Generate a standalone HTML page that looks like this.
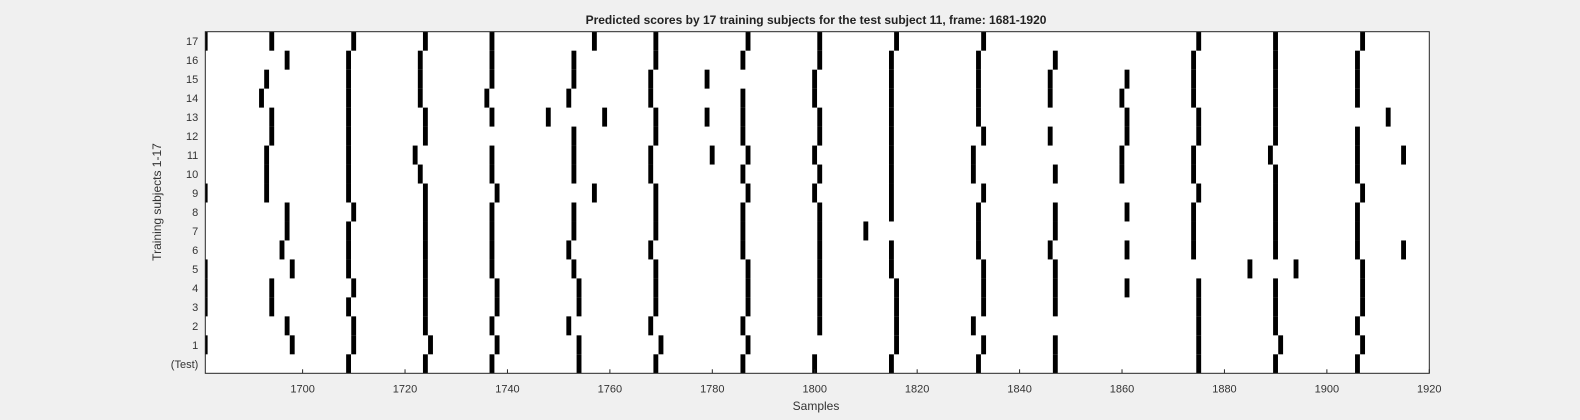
<!DOCTYPE html>
<html><head><meta charset="utf-8"><style>
body{margin:0;background:#f0f0f0;}
svg{display:block;font-family:"Liberation Sans",sans-serif;}
</style></head><body>
<svg id="chart" width="1580" height="420">
<defs><clipPath id="plotclip"><rect x="205.3" y="31.7" width="1224" height="341.6"/></clipPath></defs>
<rect x="0" y="0" width="1580" height="420" fill="#f0f0f0"/>
<rect x="205.3" y="31.7" width="1224" height="341.6" fill="#fff"/>
<g id="marks" clip-path="url(#plotclip)"></g>
<rect x="205.3" y="31.7" width="1224" height="341.6" fill="none" stroke="#262626" stroke-width="1"/>
<g id="xticks"></g>
<g id="yticks"></g>
<text x="816" y="24" text-anchor="middle" font-size="12" font-weight="bold" fill="#222">Predicted scores by 17 training subjects for the test subject 11, frame: 1681-1920</text>
<text x="816" y="410" text-anchor="middle" font-size="12" fill="#333">Samples</text>
<text x="0" y="0" transform="translate(161,202) rotate(-90)" text-anchor="middle" font-size="12" fill="#333">Training subjects 1-17</text>
</svg>
<script>
const rowLabels = ["(Test)","1","2","3","4","5","6","7","8","9","10","11","12","13","14","15","16","17"];
const xTicks = [1700,1720,1740,1760,1780,1800,1820,1840,1860,1880,1900,1920];
const rowTest = [1709,1724,1737,1754,1769,1786,1800,1815,1832,1847,1875,1890,1906];
const row1 = [1681,1698,1710,1725,1738,1754,1770,1787,1816,1833,1847,1875,1891,1907];
const row2 = [1697,1710,1724,1737,1752,1768,1786,1801,1816,1831,1875,1890,1906];
const row3 = [1681,1694,1709,1724,1738,1754,1769,1787,1801,1816,1833,1847,1875,1890,1907];
const row4 = [1681,1694,1710,1724,1738,1754,1769,1787,1801,1816,1833,1847,1861,1875,1890,1907];
const row5 = [1681,1698,1709,1724,1737,1753,1769,1787,1801,1815,1833,1847,1885,1894,1907];
const row6 = [1696,1709,1724,1737,1752,1768,1786,1801,1815,1832,1846,1861,1874,1890,1906,1915];
const row7 = [1697,1709,1724,1737,1753,1769,1786,1801,1810,1832,1847,1874,1890,1906];
const row8 = [1697,1710,1724,1737,1753,1769,1786,1801,1815,1832,1847,1861,1874,1890,1906];
const row9 = [1681,1693,1709,1724,1738,1757,1769,1787,1800,1815,1833,1875,1890,1907];
const row10 = [1693,1709,1723,1737,1753,1768,1786,1801,1815,1831,1847,1860,1874,1890,1906];
const row11 = [1693,1709,1722,1737,1753,1768,1780,1787,1800,1815,1831,1860,1874,1889,1906,1915];
const row12 = [1694,1709,1724,1753,1769,1786,1801,1815,1833,1846,1861,1875,1890,1906];
const row13 = [1694,1709,1724,1737,1748,1759,1769,1779,1786,1801,1815,1832,1861,1875,1890,1912];
const row14 = [1692,1709,1723,1736,1752,1768,1786,1800,1815,1832,1846,1860,1874,1890,1906];
const row15 = [1693,1709,1723,1737,1753,1768,1779,1800,1815,1832,1846,1861,1874,1890,1906];
const row16 = [1697,1709,1723,1737,1753,1769,1786,1801,1815,1832,1847,1874,1890,1906];
const row17 = [1681,1694,1710,1724,1737,1757,1769,1787,1801,1816,1833,1875,1890,1907];
const rows = [rowTest,row1,row2,row3,row4,row5,row6,row7,row8,row9,row10,row11,row12,row13,row14,row15,row16,row17];

const NS = "http://www.w3.org/2000/svg";
const L=205.3, R=1429.3, T=31.7, B=373.3;
const xMin=1681, xMax=1920;
const colW=(R-L)/(xMax-xMin);
const rowH=(B-T)/rowLabels.length;
function xPos(v){return L+(v-xMin)*colW;}
function yTop(i){return B-(i+1)*rowH;}

const marks=document.getElementById('marks');
rows.forEach((r,i)=>{
  r.forEach(v=>{
    const el=document.createElementNS(NS,'rect');
    el.setAttribute('x',xPos(v-0.5));
    el.setAttribute('y',yTop(i));
    el.setAttribute('width',colW*0.95);
    el.setAttribute('height',rowH);
    el.setAttribute('fill','#000');
    
    
    marks.appendChild(el);
  });
});
const xg=document.getElementById('xticks');
xTicks.forEach(t=>{
  const x=xPos(t);
  const ln=document.createElementNS(NS,'line');
  ln.setAttribute('x1',x);ln.setAttribute('x2',x);ln.setAttribute('y1',B);ln.setAttribute('y2',B-4);
  ln.setAttribute('stroke','#262626');
  
  
  xg.appendChild(ln);
  const tx=document.createElementNS(NS,'text');
  tx.setAttribute('x',x);tx.setAttribute('y',B+19);
  tx.setAttribute('text-anchor','middle');tx.setAttribute('font-size','11');tx.setAttribute('fill','#333');
  tx.textContent=t;
  
  
  xg.appendChild(tx);
});
const yg=document.getElementById('yticks');
rowLabels.forEach((lab,i)=>{
  const y=yTop(i)+rowH/2;
  const tx=document.createElementNS(NS,'text');
  tx.setAttribute('x',L-7);tx.setAttribute('y',y+4);
  tx.setAttribute('text-anchor','end');tx.setAttribute('font-size','11');tx.setAttribute('fill','#333');
  tx.textContent=lab;
  
  
  yg.appendChild(tx);
});
</script>
</body></html>
